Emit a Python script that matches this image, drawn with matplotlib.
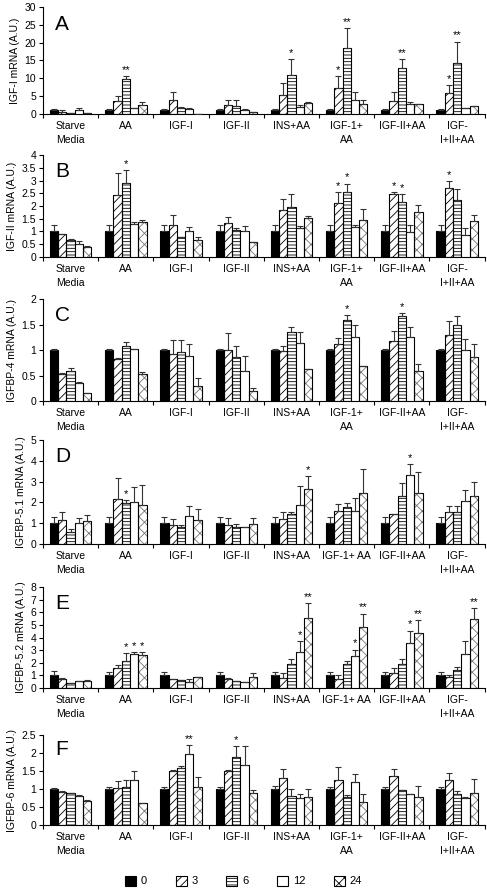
import matplotlib
matplotlib.use("Agg")
import matplotlib.pyplot as plt
import numpy as np
from matplotlib.patches import Patch

plt.rcParams["font.family"] = ["Liberation Sans", "DejaVu Sans"]
plt.rcParams["hatch.linewidth"] = 0.6

# categories and time points (hours)
categories = ["Starve\nMedia", "AA", "IGF-I", "IGF-II", "INS+AA", "IGF-1+\nAA", "IGF-II+AA", "IGF-\nI+II+AA"]
categories_de = ["Starve\nMedia", "AA", "IGF-I", "IGF-II", "INS+AA", "IGF-1+ AA", "IGF-II+AA", "IGF-\nI+II+AA"]
hours = ["0", "3", "6", "12", "24"]

# rows = categories, columns = hours
igf1_mean = [[1.0, 0.6, 0.2, 1.2, 0.2], [1.0, 3.6, 9.7, 1.8, 2.5], [1.0, 3.8, 1.6, 1.3, 0.1],
             [1.0, 2.5, 2.2, 1.0, 0.5], [1.0, 5.3, 11.0, 2.1, 3.0], [1.0, 7.4, 18.5, 4.0, 2.8],
             [1.0, 3.7, 12.8, 2.9, 2.7], [1.0, 5.8, 14.3, 1.7, 2.3]]
igf1_err = [[0.4, 0.5, 0, 0.5, 0], [0.4, 1.4, 0.9, 0, 0.9], [0.4, 2.5, 0.4, 0.4, 0],
            [0.4, 1.5, 1.6, 0.5, 0], [0.4, 3.3, 4.3, 0.5, 0.4], [0.4, 3.3, 5.7, 2.1, 1.0],
            [0.4, 2.4, 2.7, 0.4, 0], [0.4, 2.3, 6.0, 0, 0]]
igf1_stars = [(1, 2, "**"), (4, 2, "*"), (5, 1, "*"), (5, 2, "**"), (6, 2, "**"), (7, 1, "*"), (7, 2, "**")]

igf2_mean = [[1.0, 0.9, 0.68, 0.52, 0.38], [1.03, 2.42, 2.92, 1.28, 1.38], [1.03, 1.25, 0.8, 1.03, 0.65],
             [1.03, 1.33, 1.07, 1.0, 0.6], [1.03, 1.83, 1.95, 1.13, 1.52], [1.03, 2.13, 2.55, 1.18, 1.47],
             [1.03, 2.47, 2.17, 0.97, 1.75], [1.03, 2.7, 2.22, 0.87, 1.4]]
igf2_err = [[0.25, 0, 0.04, 0.1, 0.07], [0.22, 0.88, 0.5, 0.1, 0.07], [0.22, 0.4, 0, 0.15, 0.13],
            [0.22, 0.25, 0.05, 0.22, 0], [0.22, 0.44, 0.52, 0.09, 0.08], [0.22, 0.4, 0.33, 0.07, 0.41],
            [0.22, 0.08, 0.3, 0.28, 0.28], [0.22, 0.28, 0.43, 0.25, 0.25]]
igf2_stars = [(1, 2, "*"), (5, 1, "*"), (5, 2, "*"), (6, 1, "*"), (6, 2, "*"), (7, 1, "*")]

bp4_mean = [[1.0, 0.53, 0.59, 0.35, 0.15], [1.0, 0.82, 1.07, 1.02, 0.53], [1.0, 0.93, 0.97, 0.88, 0.3],
            [1.0, 1.0, 0.86, 0.58, 0.2], [1.0, 0.98, 1.36, 1.14, 0.62], [1.0, 1.12, 1.59, 1.25, 0.69],
            [1.0, 1.18, 1.66, 1.25, 0.58], [1.0, 1.3, 1.49, 1.0, 0.86]]
bp4_err = [[0.02, 0.02, 0.06, 0.02, 0], [0.02, 0.03, 0.09, 0, 0.03], [0.02, 0.27, 0.23, 0.24, 0.16],
           [0.02, 0.33, 0.21, 0.3, 0.05], [0.02, 0.09, 0.1, 0.22, 0], [0.02, 0.11, 0.09, 0.24, 0],
           [0.02, 0.2, 0.06, 0.2, 0.15], [0.02, 0.26, 0.17, 0.21, 0.25]]
bp4_stars = [(5, 2, "*"), (6, 2, "*")]

bp51_mean = [[1.0, 1.17, 0.6, 1.03, 1.12], [1.0, 2.18, 1.95, 2.03, 1.88], [1.0, 0.93, 0.8, 1.35, 1.15],
             [1.0, 0.93, 0.83, 0.83, 0.97], [1.0, 1.22, 1.42, 1.87, 2.65], [1.0, 1.57, 1.77, 1.6, 2.43],
             [1.0, 1.43, 2.33, 3.33, 2.43], [1.0, 1.55, 1.55, 2.08, 2.33]]
bp51_err = [[0.3, 0.39, 0.1, 0.22, 0.28], [0.3, 1.0, 0.17, 0.69, 0.95], [0.3, 0.27, 0.13, 0.48, 0.55],
            [0.3, 0.34, 0.14, 0, 0.3], [0.3, 0.33, 0.11, 0.93, 0.63], [0.3, 0.36, 0.21, 0.62, 1.2],
            [0.3, 0.02, 0.62, 0.52, 1.04], [0.3, 0.28, 0.28, 0.52, 0.67]]
bp51_stars = [(1, 2, "*"), (4, 4, "*"), (6, 3, "*")]

bp52_mean = [[1.05, 0.7, 0.4, 0.55, 0.55], [1.0, 1.6, 2.1, 2.7, 2.65], [1.0, 0.7, 0.6, 0.5, 0.88],
             [1.0, 0.7, 0.55, 0.5, 0.85], [1.0, 0.8, 1.9, 2.85, 5.55], [1.0, 0.7, 1.9, 2.55, 4.85],
             [1.0, 1.2, 1.9, 3.55, 4.35], [1.0, 0.9, 1.4, 2.7, 5.5]]
bp52_err = [[0.3, 0.08, 0, 0, 0.05], [0.3, 0.2, 0.7, 0.15, 0.2], [0.3, 0.05, 0.02, 0.2, 0.02],
            [0.3, 0.07, 0, 0, 0.35], [0.3, 0.4, 0.4, 0.85, 1.15], [0.3, 0.35, 0.25, 0.5, 1.05],
            [0.3, 0.35, 0.4, 1.0, 1.0], [0.3, 0.15, 0.25, 1.0, 0.8]]
bp52_stars = [(1, 2, "*"), (1, 3, "*"), (1, 4, "*"), (4, 3, "*"), (4, 4, "**"), (5, 3, "*"), (5, 4, "**"),
              (6, 3, "*"), (6, 4, "**"), (7, 4, "**")]

bp6_mean = [[1.0, 0.93, 0.88, 0.8, 0.68], [1.0, 1.03, 1.06, 1.25, 0.6], [1.0, 1.5, 1.57, 1.97, 1.05],
            [1.0, 1.5, 1.88, 1.67, 0.9], [1.0, 1.3, 0.8, 0.76, 0.77], [1.0, 1.25, 0.77, 1.2, 0.65],
            [1.0, 1.37, 0.97, 0.85, 0.77], [1.0, 1.25, 0.85, 0.75, 0.9]]
bp6_err = [[0.03, 0.02, 0.02, 0.02, 0.02], [0.05, 0.19, 0.19, 0.25, 0], [0.05, 0.02, 0.06, 0.25, 0.28],
           [0.05, 0.03, 0.32, 0.53, 0.07], [0.08, 0.25, 0.2, 0.11, 0.23], [0.05, 0.35, 0.05, 0.23, 0.2],
           [0.05, 0.18, 0, 0.02, 0.3], [0.05, 0.2, 0.1, 0.02, 0.37]]
bp6_stars = [(2, 3, "**"), (3, 2, "*")]

panels = [
    ("A", "IGF-I mRNA (A.U.)", igf1_mean, igf1_err, igf1_stars, 30, 5, categories),
    ("B", "IGF-II mRNA (A.U.)", igf2_mean, igf2_err, igf2_stars, 4, 0.5, categories),
    ("C", "IGFBP-4 mRNA (A.U.)", bp4_mean, bp4_err, bp4_stars, 2, 0.5, categories),
    ("D", "IGFBP-5.1 mRNA (A.U.)", bp51_mean, bp51_err, bp51_stars, 5, 1, categories_de),
    ("E", "IGFBP-5.2 mRNA (A.U.)", bp52_mean, bp52_err, bp52_stars, 8, 1, categories_de),
    ("F", "IGFBP-6 mRNA (A.U.)", bp6_mean, bp6_err, bp6_stars, 2.5, 0.5, categories),
]

# axes boxes in figure fraction: (bottom, height)
boxes = [(0.8722, 0.120), (0.7119, 0.1143), (0.5504, 0.1144), (0.3901, 0.1166), (0.2287, 0.1132), (0.0751, 0.1009)]

styles = [
    dict(facecolor="black", hatch=None, hatchcolor=None),
    dict(facecolor="white", hatch="////", hatchcolor="black"),
    dict(facecolor="white", hatch="-----", hatchcolor="black"),
    dict(facecolor="white", hatch=None, hatchcolor=None),
    dict(facecolor="white", hatch="xxx", hatchcolor="#777777"),
]

bar_w = 0.15
fig = plt.figure(figsize=(4.87, 8.92), dpi=100)

for (letter, ylabel, mean, err, stars, ymax, ystep, labels), (bottom, height) in zip(panels, boxes):
    ax = fig.add_axes([0.0883, bottom, 0.907, height])
    mean = np.array(mean)
    err = np.array(err)
    x = np.arange(len(labels))
    for j, st in enumerate(styles):
        xpos = x + (j - 2) * bar_w
        if st["hatch"]:
            ax.bar(xpos, mean[:, j], bar_w, color="white", edgecolor=st["hatchcolor"],
                   hatch=st["hatch"], linewidth=0, zorder=2)
            ax.bar(xpos, mean[:, j], bar_w, fill=False, edgecolor="black", linewidth=0.8, zorder=3)
        else:
            ax.bar(xpos, mean[:, j], bar_w, color=st["facecolor"], edgecolor="black",
                   linewidth=0.8, zorder=3)
        ax.errorbar(xpos, mean[:, j], yerr=[np.zeros(len(x)), err[:, j]], fmt="none",
                    ecolor="#333333", elinewidth=0.8, capsize=2, capthick=0.8, zorder=4)
    for ci, si, txt in stars:
        ax.text(ci + (si - 2) * bar_w, mean[ci, si] + err[ci, si] + ymax * 0.01, txt,
                ha="center", va="bottom", fontsize=8, zorder=5)

    ax.set_xlim(-0.5, len(labels) - 0.5)
    ax.set_ylim(0, ymax)
    ax.set_yticks(np.arange(0, ymax + ystep / 2, ystep))
    ax.set_yticklabels([f"{v:g}" for v in np.arange(0, ymax + ystep / 2, ystep)], fontsize=7.5)
    ax.set_xticks(np.arange(-0.5, len(labels), 1.0))
    ax.set_xticklabels([])
    ax.set_xticks(x, minor=True)
    ax.set_xticklabels(labels, minor=True, fontsize=7.5, linespacing=1.5)
    ax.tick_params(axis="x", which="major", length=3, direction="out", width=0.8)
    ax.tick_params(axis="x", which="minor", length=0, pad=5)
    ax.tick_params(axis="y", length=3, direction="out", width=0.8, pad=2)
    for side in ("top", "right"):
        ax.spines[side].set_visible(False)
    for side in ("left", "bottom"):
        ax.spines[side].set_linewidth(0.8)
    ax.set_ylabel(ylabel, fontsize=7.5, labelpad=3)
    ax.text(0.027, 0.84, letter, transform=ax.transAxes, fontsize=15, ha="left", va="center")

handles = []
for h, st in zip(hours, styles):
    handles.append(Patch(facecolor=st["facecolor"], edgecolor="black", hatch=st["hatch"], linewidth=0.8, label=h))
fig.legend(handles=handles, loc="lower center", bbox_to_anchor=(0.5, -0.005), ncol=5, frameon=False,
           fontsize=8, handlelength=1.0, handleheight=1.0, columnspacing=2.6, handletextpad=0.4)

fig.savefig("out.png", dpi=100)
